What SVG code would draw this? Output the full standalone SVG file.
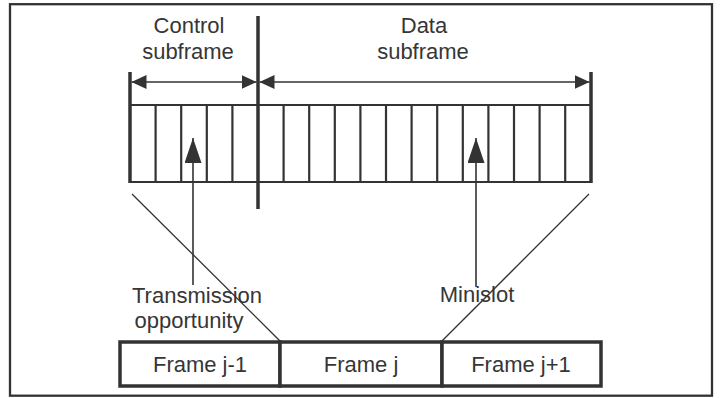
<svg xmlns="http://www.w3.org/2000/svg" width="724" height="398" viewBox="0 0 724 398">
<style>
.t{font-family:"Liberation Sans",Arial,sans-serif;font-size:22px;fill:#363636;text-anchor:middle}
.thick{stroke:#333;stroke-width:3.5;fill:none}
.slot{stroke:#333;stroke-width:2.2}
.box{stroke:#333;stroke-width:3.5;fill:#fff}
.arr{stroke:#333;stroke-width:1.6;fill:none}
.diag{stroke:#333;stroke-width:1.3}
</style>
<defs>
<marker id="ah" markerUnits="userSpaceOnUse" markerWidth="15" markerHeight="14" refX="15" refY="7" orient="auto-start-reverse"><path d="M0,0 L15,7 L0,14 z" fill="#333"/></marker>
<marker id="av" markerUnits="userSpaceOnUse" markerWidth="25" markerHeight="17" refX="25" refY="8.5" orient="auto"><path d="M0,0 L25,8.5 L0,17 z" fill="#333"/></marker>
</defs>
<rect x="0" y="0" width="724" height="398" fill="#fff"/>
<rect x="10" y="4.2" width="702" height="391.5" fill="none" stroke="#333" stroke-width="2.3"/>
<g id="strip">
<line x1="130" y1="105" x2="591" y2="105" class="slot"/>
<line x1="130" y1="182" x2="591" y2="182" class="slot"/>
<g class="slot">
<line x1="155.6" y1="105" x2="155.6" y2="182"/>
<line x1="181.2" y1="105" x2="181.2" y2="182"/>
<line x1="206.8" y1="105" x2="206.8" y2="182"/>
<line x1="232.4" y1="105" x2="232.4" y2="182"/>
<line x1="283.6" y1="105" x2="283.6" y2="182"/>
<line x1="309.2" y1="105" x2="309.2" y2="182"/>
<line x1="334.8" y1="105" x2="334.8" y2="182"/>
<line x1="360.4" y1="105" x2="360.4" y2="182"/>
<line x1="386" y1="105" x2="386" y2="182"/>
<line x1="411.6" y1="105" x2="411.6" y2="182"/>
<line x1="437.2" y1="105" x2="437.2" y2="182"/>
<line x1="462.8" y1="105" x2="462.8" y2="182"/>
<line x1="488.4" y1="105" x2="488.4" y2="182"/>
<line x1="514" y1="105" x2="514" y2="182"/>
<line x1="539.6" y1="105" x2="539.6" y2="182"/>
<line x1="565.2" y1="105" x2="565.2" y2="182"/>
</g>
<line x1="130" y1="72" x2="130" y2="183" class="thick"/>
<line x1="591" y1="72" x2="591" y2="183" class="thick"/>
<line x1="258" y1="16" x2="258" y2="209" class="thick"/>
</g>
<g id="labels">
<text class="t" x="189" y="33">Control</text>
<text class="t" x="188" y="58.5">subframe</text>
<text class="t" x="424" y="33">Data</text>
<text class="t" x="423" y="58.5">subframe</text>
<text class="t" x="197" y="303">Transmission</text>
<text class="t" x="189" y="328">opportunity</text>
<text class="t" x="477" y="302">Minislot</text>
</g>
<g id="frames">
<rect x="120" y="342" width="160" height="44" class="box"/>
<rect x="280" y="342" width="162" height="44" class="box"/>
<rect x="442" y="342" width="159" height="44" class="box"/>
<text class="t" x="200" y="372">Frame j-1</text>
<text class="t" x="361" y="372">Frame j</text>
<text class="t" x="521" y="372">Frame j+1</text>
</g>
<g id="connectors">
<line x1="131.5" y1="82" x2="256.5" y2="82" class="arr" marker-start="url(#ah)" marker-end="url(#ah)"/>
<line x1="259.5" y1="82" x2="589.5" y2="82" class="arr" marker-start="url(#ah)" marker-end="url(#ah)"/>
<line x1="193" y1="285" x2="193" y2="138" class="arr" stroke-width="2" marker-end="url(#av)"/>
<line x1="476" y1="287" x2="476" y2="138" class="arr" stroke-width="2" marker-end="url(#av)"/>
<line x1="132" y1="194" x2="280" y2="341" class="diag"/>
<line x1="589" y1="194" x2="442" y2="341" class="diag"/>
</g>
</svg>
